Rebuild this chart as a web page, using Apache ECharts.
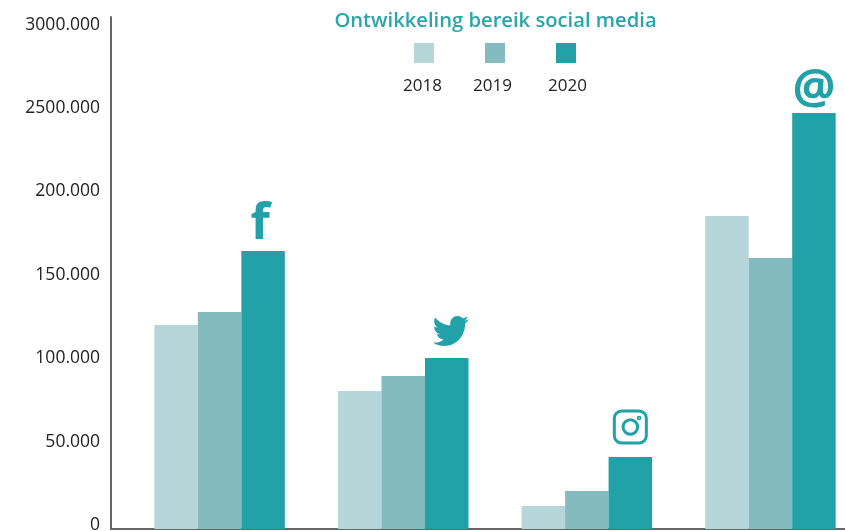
<!DOCTYPE html>
<html>
<head>
<meta charset="utf-8">
<style>html,body{margin:0;padding:0;background:#fff}#c{width:845px;height:531px}</style>
<script src="https://cdn.jsdelivr.net/npm/echarts@6/dist/echarts.min.js"></script>
</head>
<body>
<div id="c"></div>
<script>
const categories = ['Facebook', 'Twitter', 'Instagram', 'E-mail'];
const years = ['2018', '2019', '2020'];
const values2018 = [122.2, 82.6, 13.8, 187.4];
const values2019 = [129.9, 91.6, 22.8, 162.3];
const values2020 = [166.5, 102.4, 43.1, 249.1];
const tickLabels = ['0', '50.000', '100.000', '150.000', '200.000', '2500.000', '3000.000'];
const colors = ['#B7D6D9', '#84BBBF', '#22A1A8'];
const titleText = 'Ontwikkeling bereik social media';

const TEAL = '#22A1A8';
const FONT = 'Open Sans';
const BIRD = 'path://M23.954 4.569c-.885.389-1.83.654-2.825.775 1.014-.611 1.794-1.574 2.163-2.723-.951.555-2.005.959-3.127 1.184-.896-.959-2.173-1.559-3.591-1.559-2.717 0-4.92 2.203-4.92 4.917 0 .39.045.765.127 1.124C7.691 8.094 4.066 6.13 1.64 3.161c-.427.722-.666 1.561-.666 2.475 0 1.71.87 3.213 2.188 4.096-.807-.026-1.566-.248-2.228-.616v.061c0 2.385 1.693 4.374 3.946 4.827-.413.111-.849.171-1.296.171-.314 0-.615-.03-.916-.086.631 1.953 2.445 3.377 4.604 3.417-1.68 1.319-3.809 2.105-6.102 2.105-.39 0-.779-.023-1.17-.067 2.189 1.394 4.768 2.209 7.557 2.209 9.054 0 13.999-7.496 13.999-13.986 0-.209 0-.42-.015-.63.961-.689 1.8-1.56 2.46-2.548l-.047-.02z';
const CAMERA = 'path://M6 1H18A5 5 0 0 1 23 6V18A5 5 0 0 1 18 23H6A5 5 0 0 1 1 18V6A5 5 0 0 1 6 1Z M12 7A5 5 0 1 1 12 17A5 5 0 1 1 12 7Z M18 5.2A.6 .6 0 1 1 18 6.4A.6 .6 0 1 1 18 5.2Z';

const BW = 43.5;
const allValues = [values2018, values2019, values2020];
const legendX = [414, 485, 556];
const legendLabelX = [423, 493, 568];

const option = {
  animation: false,
  backgroundColor: '#fff',
  title: {
    text: titleText, left: 490.5, top: 6, textAlign: 'center',
    textStyle: {color: '#2AA5AB', fontFamily: FONT, fontSize: 20.2, fontWeight: 600}
  },
  legend: years.map((y, i) => ({
    data: [y], left: legendX[i], top: 43, icon: 'rect', itemWidth: 20, itemHeight: 20,
    formatter: () => '', selectedMode: false, padding: 0, itemGap: 0
  })),
  graphic: years.map((y, i) => ({
    type: 'text', left: legendLabelX[i] - 20, top: 78,
    style: {text: y, fill: '#222', font: '17px "' + FONT + '"'}
  })),
  grid: {left: 111, top: 17, width: 734, height: 512, outerBoundsMode: 'none'},
  xAxis: {
    type: 'value', min: -0.5915, max: 3.406,
    axisLine: {onZero: false, lineStyle: {color: '#666', width: 2}},
    axisTick: {show: false}, axisLabel: {show: false}, splitLine: {show: false}
  },
  yAxis: {
    type: 'value', min: 0, max: 306.6, interval: 50,
    axisLine: {show: true, onZero: false, lineStyle: {color: '#666', width: 2}},
    axisTick: {show: false},
    splitLine: {show: false},
    axisLabel: {
      margin: 11, color: '#222', fontFamily: FONT, fontSize: 17.5,
      showMaxLabel: false,
      verticalAlign: 'bottom', lineHeight: 7,
      formatter: v => tickLabels[Math.round(v / 50)]
    }
  },
  series: years.map((y, s) => {
    const o = {
      name: y, type: 'bar', barWidth: BW, barGap: 0,
      itemStyle: {color: colors[s]},
      data: categories.map((c, i) => [i, allValues[s][i]])
    };
    if (s === 2) {
      o.markPoint = {
        silent: true,
        data: [
          {coord: [0, values2020[0]], symbol: 'circle', symbolSize: 1, symbolOffset: [-3, -26],
           itemStyle: {color: 'transparent'},
           label: {show: true, position: 'inside', formatter: 'f', color: TEAL, fontFamily: FONT, fontWeight: 700, fontSize: 50}},
          {coord: [1, values2020[1]], symbol: BIRD, symbolSize: [36, 30], symbolOffset: [4, -27],
           itemStyle: {color: TEAL}, label: {show: false}},
          {coord: [2, values2020[2]], symbol: CAMERA, symbolSize: 32, symbolOffset: [0, -30],
           itemStyle: {color: 'transparent', borderColor: TEAL, borderWidth: 3}, label: {show: false}},
          {coord: [3, values2020[3]], symbol: 'circle', symbolSize: 1, symbolOffset: [0, -23],
           itemStyle: {color: 'transparent'},
           label: {show: true, position: 'inside', formatter: '@', color: TEAL, fontFamily: FONT, fontWeight: 700, fontSize: 48}}
        ]
      };
    }
    return o;
  })
};
echarts.init(document.getElementById('c'), null, {renderer: 'canvas'}).setOption(option);
</script>
</body>
</html>
